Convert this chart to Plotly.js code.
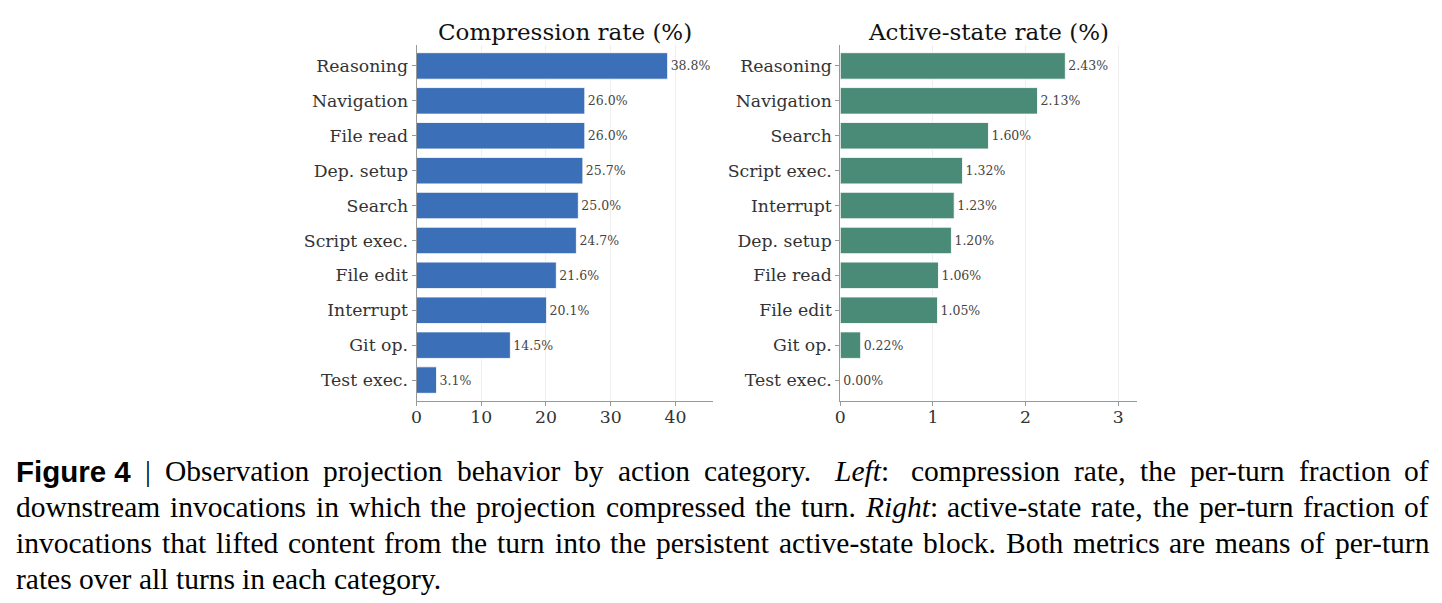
<!DOCTYPE html>
<html>
<head>
<meta charset="utf-8">
<script src="https://cdn.plot.ly/plotly-3.0.1.min.js"></script>
<style>
  html, body { margin: 0; padding: 0; background: #ffffff; }
  #fig { width: 1442px; height: 603px; }
</style>
</head>
<body>
<div id="fig"></div>
<script>
// Per-category compression rate (%)
const compressionCategories = ["Reasoning", "Navigation", "File read", "Dep. setup", "Search",
  "Script exec.", "File edit", "Interrupt", "Git op.", "Test exec."];
const compressionRates = [38.8, 26.0, 26.0, 25.7, 25.0, 24.7, 21.6, 20.1, 14.5, 3.1];

// Per-category active-state rate (%)
const activeCategories = ["Reasoning", "Navigation", "Search", "Script exec.", "Interrupt",
  "Dep. setup", "File read", "File edit", "Git op.", "Test exec."];
const activeRates = [2.43, 2.13, 1.60, 1.32, 1.23, 1.20, 1.06, 1.05, 0.22, 0.00];

const panelTitles = ["Compression rate (%)", "Active-state rate (%)"];
const xTicksLeft = [0, 10, 20, 30, 40];
const xTicksRight = [0, 1, 2, 3];

// Caption lines; each token: [text, style] with style 'b' bold sans, 'i' italic, 'r' roman
const captionLines = [
  [["Figure 4", "b"], ["|", "r"], ["Observation", "r"], ["projection", "r"], ["behavior", "r"], ["by", "r"],
   ["action", "r"], ["category.", "r"], ["Left|:", "i"], ["compression", "r"], ["rate,", "r"], ["the", "r"],
   ["per-turn", "r"], ["fraction", "r"], ["of", "r"]],
  [["downstream", "r"], ["invocations", "r"], ["in", "r"], ["which", "r"], ["the", "r"], ["projection", "r"],
   ["compressed", "r"], ["the", "r"], ["turn.", "r"], ["Right|:", "i"], ["active-state", "r"], ["rate,", "r"],
   ["the", "r"], ["per-turn", "r"], ["fraction", "r"], ["of", "r"]],
  [["invocations", "r"], ["that", "r"], ["lifted", "r"], ["content", "r"], ["from", "r"], ["the", "r"],
   ["turn", "r"], ["into", "r"], ["the", "r"], ["persistent", "r"], ["active-state", "r"], ["block.", "r"],
   ["Both", "r"], ["metrics", "r"], ["are", "r"], ["means", "r"], ["of", "r"], ["per-turn", "r"]],
  [["rates", "r"], ["over", "r"], ["all", "r"], ["turns", "r"], ["in", "r"], ["each", "r"], ["category.", "r"]]
];

const W = 1442, H = 603;
const px = x => x / W;
const py = y => 1 - y / H;

const serif = "DejaVu Serif";
const capSerif = "Liberation Serif";
const capSans = "Liberation Sans";
const capSize = 29.5;

const blue = "#3b6fb7";
const green = "#4a8b78";

function barTrace(cats, vals, color, fmt, xa, ya) {
  return {
    type: "bar",
    orientation: "h",
    y: cats,
    x: vals,
    xaxis: xa,
    yaxis: ya,
    width: 0.76,
    marker: { color: color, line: { color: "rgba(255,255,255,0.85)", width: 1 } },
    text: vals.map(v => v.toFixed(fmt) + "%"),
    textposition: "outside",
    textfont: { family: serif, size: 12.5, color: "#444444" },
    constraintext: "none",
    cliponaxis: false,
    hoverinfo: "skip"
  };
}

const traces = [
  barTrace(compressionCategories, compressionRates, blue, 1, "x", "y"),
  barTrace(activeCategories, activeRates, green, 2, "x2", "y2")
];

const tickFont = { family: serif, size: 17.3, color: "#333333" };

function xAxis(domain, range, ticks, anchor) {
  return {
    domain: domain, range: range, anchor: anchor,
    tickmode: "array", tickvals: ticks, ticktext: ticks.map(String),
    showgrid: true, gridcolor: "#efefef", gridwidth: 1,
    zeroline: false, showline: true, linecolor: "#999999", linewidth: 1,
    ticks: "outside", ticklen: 4, tickcolor: "#999999", tickwidth: 1,
    ticklabelstandoff: -4,
    tickfont: tickFont, fixedrange: true
  };
}
function yAxis(cats, anchor) {
  return {
    domain: [py(401), py(45)], anchor: anchor,
    type: "category", categoryorder: "array", categoryarray: cats,
    range: [cats.length - 0.4, -0.6],
    showgrid: false, zeroline: false, showline: true, linecolor: "#999999", linewidth: 1,
    ticks: "outside", ticklen: 4, tickcolor: "#999999", tickwidth: 1,
    tickfont: tickFont, fixedrange: true
  };
}

const annotations = [];
// Panel titles centred over each axis
[[565, panelTitles[0]], [988.8, panelTitles[1]]].forEach(([cx, t]) => {
  annotations.push({
    xref: "paper", yref: "paper", x: px(cx), y: py(32),
    xanchor: "center", yanchor: "middle", showarrow: false,
    text: t, font: { family: serif, size: 23, color: "#111111" }
  });
});

// Justified caption built word by word
const canvas = document.createElement("canvas");
const ctx = canvas.getContext("2d");
function fontFor(style) {
  if (style === "b") return "bold " + capSize + "px '" + capSans + "'";
  if (style === "i") return "italic " + capSize + "px '" + capSerif + "'";
  return capSize + "px '" + capSerif + "'";
}
function tokenWidth(tok) {
  const [t, s] = tok;
  if (s === "i") {
    const [a, b] = t.split("|");
    ctx.font = fontFor("i");
    let w = ctx.measureText(a).width;
    ctx.font = fontFor("r");
    return w + ctx.measureText(b).width;
  }
  ctx.font = fontFor(s);
  return ctx.measureText(t).width;
}
function tokenHtml(tok) {
  const [t, s] = tok;
  if (s === "b") return "<b>" + t + "</b>";
  if (s === "i") { const [a, b] = t.split("|"); return "<i>" + a + "</i>" + b; }
  return t;
}
const capLeft = 15, capRight = 1428;
const lineY = [471, 507, 543, 579];
captionLines.forEach((line, li) => {
  const widths = line.map(tokenWidth);
  const total = widths.reduce((a, b) => a + b, 0);
  const last = li === captionLines.length - 1;
  // wider stretch after sentence ends on the first line
  const weights = line.slice(0, -1).map(tok => (li === 0 && (tok[0] === "category." || tok[1] === "i")) ? 1.6 : 1);
  const wsum = weights.reduce((a, b) => a + b, 0);
  ctx.font = fontFor("r");
  const natGap = ctx.measureText(" ").width;
  const unit = last ? natGap : (capRight - capLeft - total) / wsum;
  let x = capLeft;
  line.forEach((tok, i) => {
    annotations.push({
      xref: "paper", yref: "paper", x: px(x), y: py(lineY[li]),
      xanchor: "left", yanchor: "middle", showarrow: false, borderpad: 0,
      text: tokenHtml(tok),
      font: { family: tok[1] === "b" ? capSans : capSerif, size: capSize, color: "#000000" }
    });
    x += widths[i] + (i < weights.length ? unit * weights[i] : 0);
  });
});

const layout = {
  width: W, height: H,
  margin: { l: 0, r: 0, t: 0, b: 0 },
  paper_bgcolor: "#ffffff", plot_bgcolor: "#ffffff",
  showlegend: false, hovermode: false,
  bargap: 0.24,
  xaxis: xAxis([px(416.5), px(713.3)], [0, 45.85], xTicksLeft, "y"),
  yaxis: yAxis(compressionCategories, "x"),
  xaxis2: xAxis([px(840.3), px(1137.3)], [0, 3.207], xTicksRight, "y2"),
  yaxis2: yAxis(activeCategories, "x2"),
  annotations: annotations
};

Plotly.newPlot("fig", traces, layout, { displayModeBar: false, staticPlot: true });
</script>
</body>
</html>
